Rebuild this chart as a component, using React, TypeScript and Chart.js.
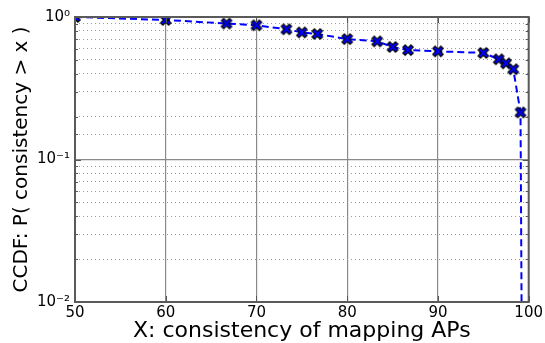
import React, { useEffect, useRef } from 'react';
import { Chart, registerables } from 'chart.js';

Chart.register(...registerables);

// Data
const xValues = [50, 60, 66.7, 70, 73.3, 75, 76.7, 80, 83.3, 85, 86.7, 90, 95, 96.7, 97.5, 98.3, 99.1, 99.3];
const ccdfValues = [1.0, 0.953, 0.9, 0.875, 0.82, 0.78, 0.76, 0.7, 0.675, 0.616, 0.586, 0.574, 0.56, 0.505, 0.473, 0.43, 0.214, 0.001];
const xTickValues = [50, 60, 70, 80, 90, 100];
const yMajorValues = [1, 0.1, 0.01];
const yMajorLabels = ['10⁰', '10⁻¹', '10⁻²'];
const xTitle = 'X: consistency of mapping APs';
const yTitle = 'CCDF: P( consistency > x )';

const FONT = "'DejaVu Sans', sans-serif";

function isMajor(v: number) {
  const l = Math.log10(v);
  return Math.abs(l - Math.round(l)) < 1e-6;
}

function makeMarker(): HTMLCanvasElement {
  const c = document.createElement('canvas');
  const s = 14;
  c.width = s;
  c.height = s;
  const g = c.getContext('2d')!;
  const cx = s / 2, cy = s / 2, r = 5.2, w = 2.3;
  const pts = [
    [-r, -r + w], [-r + w, -r], [0, -w], [r - w, -r], [r, -r + w], [w, 0],
    [r, r - w], [r - w, r], [0, w], [-r + w, r], [-r, r - w], [-w, 0],
  ];
  g.beginPath();
  pts.forEach(([px, py], i) => {
    if (i === 0) g.moveTo(cx + px, cy + py);
    else g.lineTo(cx + px, cy + py);
  });
  g.closePath();
  g.fillStyle = '#0000ff';
  g.fill();
  g.lineWidth = 1.2;
  g.strokeStyle = '#000000';
  g.stroke();
  return c;
}

const framePlugin = {
  id: 'frame',
  afterDatasetsDraw(chart: any) {
    const { ctx, chartArea } = chart;
    const { left, right, top, bottom } = chartArea;
    const xs = chart.scales.x;
    const ys = chart.scales.y;
    ctx.save();
    ctx.strokeStyle = '#555555';
    ctx.lineWidth = 1;
    ys.ticks.forEach((t: any) => {
      const py = Math.round(ys.getPixelForValue(t.value)) + 0.5;
      const len = isMajor(t.value) ? 6 : 3;
      ctx.beginPath();
      ctx.moveTo(left, py);
      ctx.lineTo(left + len, py);
      ctx.moveTo(right, py);
      ctx.lineTo(right - len, py);
      ctx.stroke();
    });
    xs.ticks.forEach((t: any) => {
      const px = Math.round(xs.getPixelForValue(t.value)) + 0.5;
      ctx.beginPath();
      ctx.moveTo(px, bottom);
      ctx.lineTo(px, bottom - 6);
      ctx.moveTo(px, top);
      ctx.lineTo(px, top + 6);
      ctx.stroke();
    });
    ctx.lineWidth = 2;
    ctx.strokeStyle = '#5a5a5a';
    ctx.strokeRect(left, top, right - left, bottom - top);
    ctx.restore();
  },
};

export default function App() {
  const ref = useRef<HTMLCanvasElement | null>(null);

  useEffect(() => {
    if (!ref.current) return;
    const marker = makeMarker();
    const chart = new Chart(ref.current, {
      type: 'scatter',
      data: {
        datasets: [
          {
            data: xValues.map((x, i) => ({ x, y: ccdfValues[i] })),
            showLine: true,
            borderColor: '#0000ff',
            backgroundColor: '#0000ff',
            borderWidth: 2,
            borderDash: [7, 4],
            pointStyle: marker as any,
            pointRadius: 6,
            pointHoverRadius: 6,
            clip: 0 as any,
            tension: 0,
          },
        ],
      },
      options: {
        animation: false,
        responsive: false,
        devicePixelRatio: 1,
        layout: { padding: { left: 0, right: 16, top: 17, bottom: 0 } },
        plugins: {
          legend: { display: false },
          tooltip: { enabled: false },
        },
        scales: {
          x: {
            type: 'linear',
            min: 50,
            max: 100,
            afterBuildTicks: (scale: any) => {
              scale.ticks = xTickValues.map((v) => ({ value: v }));
            },
            afterFit: (scale: any) => {
              scale.height = 41;
            },
            ticks: {
              font: { family: FONT, size: 15 },
              color: '#000',
              padding: 2,
              maxRotation: 0,
              autoSkip: false,
              callback: (v: any) => String(v),
            },
            grid: {
              color: '#8a8a8a',
              lineWidth: 1.2,
              drawTicks: false,
            },
            border: { display: false },
            title: {
              display: true,
              text: xTitle,
              font: { family: FONT, size: 22 },
              color: '#000',
              padding: { top: 0, bottom: -1 },
            },
          },
          y: {
            type: 'logarithmic',
            min: 0.01,
            max: 1,
            afterFit: (scale: any) => {
              scale.width = 75;
            },
            ticks: {
              font: { family: FONT, size: 15 },
              color: '#000',
              padding: 5,
              autoSkip: false,
              callback: (v: any) => {
                const idx = yMajorValues.findIndex((m) => Math.abs(m - v) < 1e-9);
                return idx >= 0 ? yMajorLabels[idx] : '';
              },
            },
            grid: {
              color: (c: any) => (c.tick && isMajor(c.tick.value) ? '#8a8a8a' : '#9a9a9a'),
              lineWidth: (c: any) => (c.tick && isMajor(c.tick.value) ? 1.2 : 1),
              drawTicks: false,
            },
            border: {
              display: false,
              dash: (c: any) => (c.tick && isMajor(c.tick.value) ? [] : [1, 3]),
            } as any,
            title: {
              display: true,
              text: yTitle,
              font: { family: FONT, size: 20 },
              color: '#000',
              padding: { top: 10, bottom: 0 },
            },
          },
        },
      },
      plugins: [framePlugin],
    });
    return () => chart.destroy();
  }, []);

  return (
    <div style={{ position: 'fixed', left: 0, top: 0, width: 545, height: 343, background: '#fff' }}>
      <canvas ref={ref} width={545} height={343} style={{ width: 545, height: 343, display: 'block' }} />
    </div>
  );
}
